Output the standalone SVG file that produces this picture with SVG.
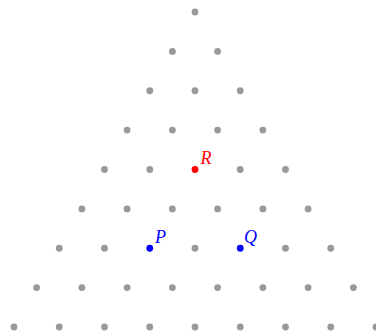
<svg xmlns="http://www.w3.org/2000/svg" width="376" height="332" viewBox="0 0 376 332">
<style>
.d{fill:#999999}
.lbl{font-family:"Liberation Serif","DejaVu Serif",serif;font-style:italic;font-size:18px}
</style>
<rect width="376" height="332" fill="#ffffff"/>
<g id="grid">
<circle class="d" cx="195" cy="12" r="3.4"/>
<circle class="d" cx="172.4" cy="51.4" r="3.4"/><circle class="d" cx="217.6" cy="51.4" r="3.4"/>
<circle class="d" cx="149.75" cy="90.75" r="3.4"/><circle class="d" cx="195" cy="90.75" r="3.4"/><circle class="d" cx="240.25" cy="90.75" r="3.4"/>
<circle class="d" cx="127.1" cy="130.1" r="3.4"/><circle class="d" cx="172.4" cy="130.1" r="3.4"/><circle class="d" cx="217.6" cy="130.1" r="3.4"/><circle class="d" cx="262.9" cy="130.1" r="3.4"/>
<circle class="d" cx="104.5" cy="169.5" r="3.4"/><circle class="d" cx="149.75" cy="169.5" r="3.4"/><circle class="d" cx="240.25" cy="169.5" r="3.4"/><circle class="d" cx="285.5" cy="169.5" r="3.4"/>
<circle class="d" cx="81.9" cy="208.9" r="3.4"/><circle class="d" cx="127.1" cy="208.9" r="3.4"/><circle class="d" cx="172.4" cy="208.9" r="3.4"/><circle class="d" cx="217.6" cy="208.9" r="3.4"/><circle class="d" cx="262.9" cy="208.9" r="3.4"/><circle class="d" cx="308.1" cy="208.9" r="3.4"/>
<circle class="d" cx="59.25" cy="248.25" r="3.4"/><circle class="d" cx="104.5" cy="248.25" r="3.4"/><circle class="d" cx="195" cy="248.25" r="3.4"/><circle class="d" cx="285.5" cy="248.25" r="3.4"/><circle class="d" cx="330.75" cy="248.25" r="3.4"/>
<circle class="d" cx="36.6" cy="287.6" r="3.4"/><circle class="d" cx="81.9" cy="287.6" r="3.4"/><circle class="d" cx="127.1" cy="287.6" r="3.4"/><circle class="d" cx="172.4" cy="287.6" r="3.4"/><circle class="d" cx="217.6" cy="287.6" r="3.4"/><circle class="d" cx="262.9" cy="287.6" r="3.4"/><circle class="d" cx="308.1" cy="287.6" r="3.4"/><circle class="d" cx="353.4" cy="287.6" r="3.4"/>
<circle class="d" cx="14" cy="327" r="3.4"/><circle class="d" cx="59.25" cy="327" r="3.4"/><circle class="d" cx="104.5" cy="327" r="3.4"/><circle class="d" cx="149.75" cy="327" r="3.4"/><circle class="d" cx="195" cy="327" r="3.4"/><circle class="d" cx="240.25" cy="327" r="3.4"/><circle class="d" cx="285.5" cy="327" r="3.4"/><circle class="d" cx="330.75" cy="327" r="3.4"/><circle class="d" cx="376" cy="327" r="3.4"/>
</g>
<g id="R">
<circle cx="195" cy="169.5" r="3.4" fill="#ff0000"/>
<text class="lbl" x="200.5" y="164" fill="#ff0000">R</text>
</g>
<g id="P">
<circle cx="149.75" cy="248.25" r="3.4" fill="#0000ff"/>
<text class="lbl" x="155" y="242.5" fill="#0000ff">P</text>
</g>
<g id="Q">
<circle cx="240.25" cy="248.25" r="3.4" fill="#0000ff"/>
<text class="lbl" x="244" y="242.5" fill="#0000ff">Q</text>
</g>
<g id="connectors"></g>
</svg>
